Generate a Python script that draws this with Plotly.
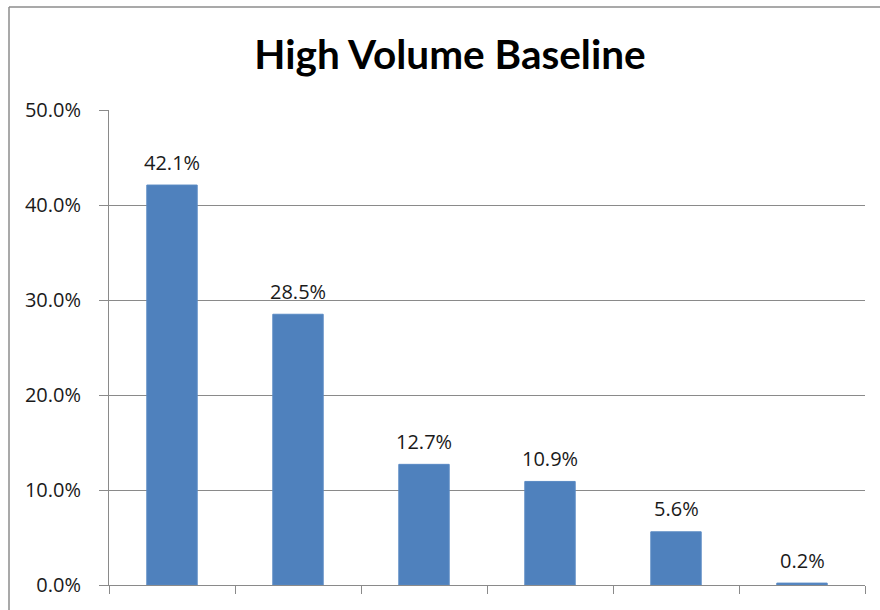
import plotly.graph_objects as go

# Share of volume per bucket (fractions), six buckets
categories = ["A", "B", "C", "D", "E", "F"]
shares = [0.421, 0.285, 0.127, 0.109, 0.056, 0.002]

title_text = "High Volume Baseline"
y_tick_vals = [0.0, 0.1, 0.2, 0.3, 0.4, 0.5]

BAR_BLUE = "#4F81BD"
GRID_GRAY = "#8A8A8A"
TEXT_COLOR = "#1a1a1a"
NUM_FONT = dict(family="Open Sans", size=20, color=TEXT_COLOR)

W, H = 880, 610
M_L, M_R, M_T, M_B = 109, 15, 110, 25
plot_w = W - M_L - M_R
plot_h = H - M_T - M_B

fig = go.Figure(
    go.Bar(
        x=categories,
        y=shares,
        marker=dict(color=BAR_BLUE, line=dict(color="#5A8AC4", width=1)),
        hoverinfo="skip",
    )
)

# value labels above each bar (category index positions)
for i, v in enumerate(shares):
    fig.add_annotation(
        x=i, y=v, xref="x", yref="y",
        text=f"{v * 100:.1f}%",
        showarrow=False, yanchor="middle", yshift=23,
        font=NUM_FONT,
    )

# outer chart frame: left and top edges, running to the canvas edges
frame_x = (9 - M_L) / plot_w
frame_y = (H - M_B - 7) / plot_h
frame_right = (W - M_L) / plot_w
frame_bottom = -M_B / plot_h
frame_line = dict(color="#8C8C8C", width=1.5)
fig.add_shape(type="line", xref="paper", yref="paper",
              x0=frame_x, x1=frame_x, y0=frame_bottom, y1=frame_y, line=frame_line)
fig.add_shape(type="line", xref="paper", yref="paper",
              x0=frame_x, x1=frame_right, y0=frame_y, y1=frame_y, line=frame_line)

fig.update_layout(
    width=W, height=H,
    margin=dict(l=M_L, r=M_R, t=M_T, b=M_B, pad=0),
    paper_bgcolor="white", plot_bgcolor="white",
    showlegend=False,
    bargap=0.6,
    title=dict(
        text=f"<b>{title_text}</b>",
        x=450 / W, xref="container", xanchor="center",
        y=1 - 55 / H, yref="container", yanchor="middle",
        font=dict(family="Lato", size=40.5, color="black"),
    ),
    xaxis=dict(
        type="category",
        range=[-0.5, len(categories) - 0.5],
        showticklabels=False,
        tickson="boundaries",
        ticks="outside", ticklen=8, tickcolor=GRID_GRAY, tickwidth=1,
        showline=True, linecolor=GRID_GRAY, linewidth=1,
        showgrid=False, zeroline=False,
    ),
    yaxis=dict(
        range=[0, 0.5],
        tickvals=y_tick_vals,
        tickformat=".1%",
        ticks="outside", ticklen=9, tickcolor=GRID_GRAY, tickwidth=1,
        ticklabelstandoff=14,
        showline=True, linecolor=GRID_GRAY, linewidth=1,
        showgrid=True, gridcolor=GRID_GRAY, gridwidth=1,
        zeroline=False,
        tickfont=NUM_FONT,
    ),
)

fig.write_html("out.html")
